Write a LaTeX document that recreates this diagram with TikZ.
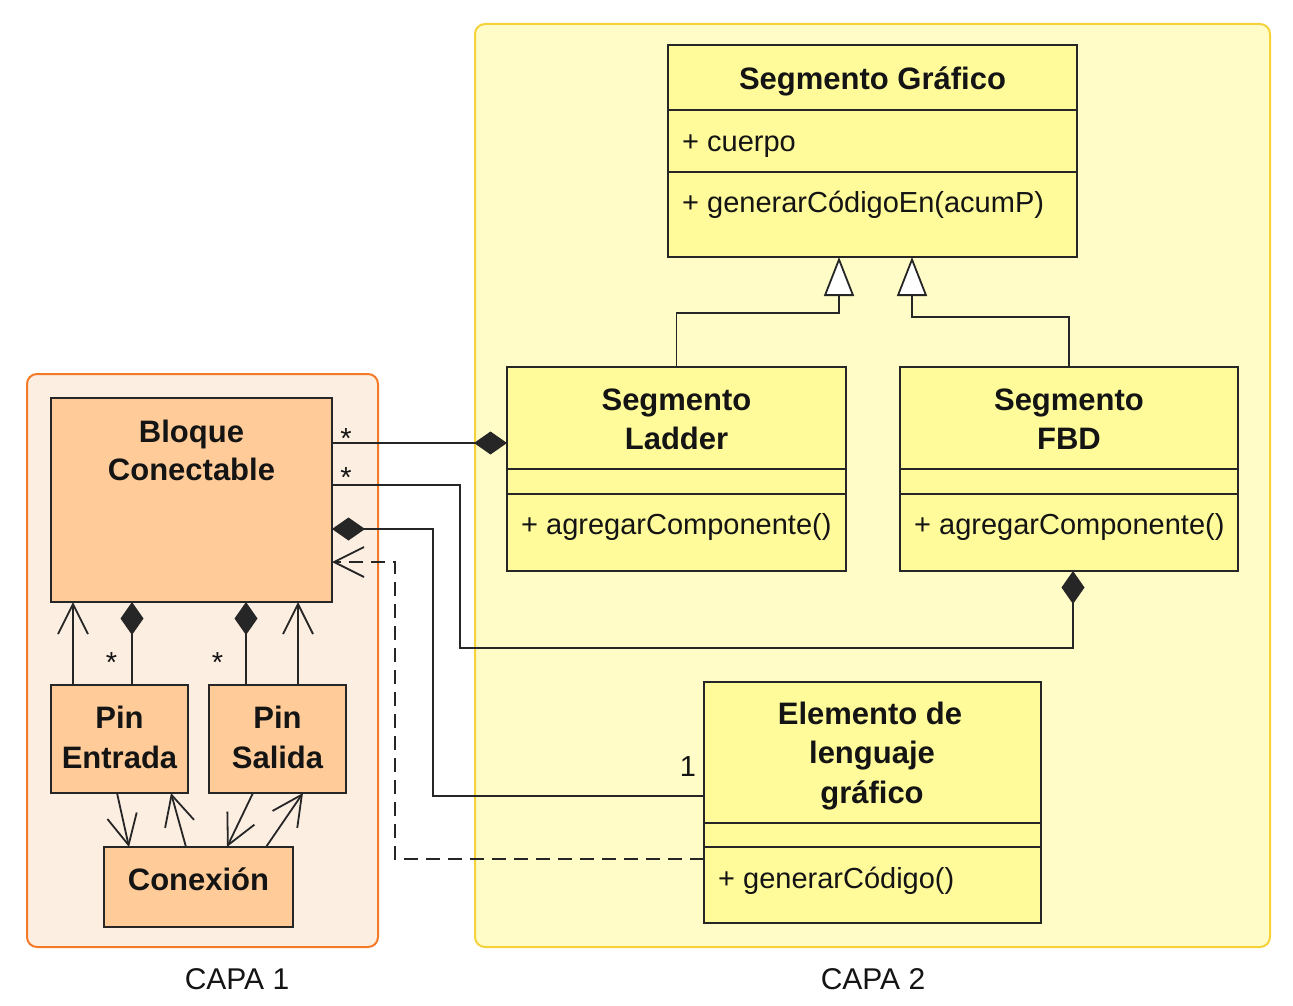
\documentclass[tikz,border=0pt]{standalone}
\usepackage{fontspec}
\setmainfont{Liberation Sans}
\usetikzlibrary{arrows.meta}
\definecolor{linec}{HTML}{262626}
\definecolor{txtc}{HTML}{141414}
\definecolor{clsY}{HTML}{FFFB9A}
\definecolor{clsO}{HTML}{FFCC99}
\definecolor{layOfill}{HTML}{FDEEE2}
\definecolor{layOdraw}{HTML}{F47A28}
\definecolor{layYfill}{HTML}{FFFCC8}
\definecolor{layYdraw}{HTML}{F6D23A}
\tikzset{
  diam/.tip={Diamond[length=33pt,width=23pt,fill=linec]},
  genr/.tip={Triangle[open,fill=white,length=39pt,width=30pt]},
  navi/.tip={Straight Barb[length=30pt,width=30pt]},
  layer/.style={rounded corners=10pt, line width=2pt, anchor=north west, inner sep=0pt, outer sep=0pt},
  cls/.style={draw=linec, line width=2pt, fill=clsY, anchor=north west, inner sep=0pt, outer sep=0pt},
  ocls/.style={cls, fill=clsO},
  ttl/.style={font=\bfseries\fontsize{31}{38}\selectfont, text=txtc, anchor=base, inner sep=0pt},
  mth/.style={font=\fontsize{29}{35}\selectfont, text=txtc, anchor=base west, inner sep=0pt},
  mult/.style={font=\fontsize{29}{35}\selectfont, text=txtc, anchor=base, inner sep=0pt},
  lbl/.style={font=\fontsize{30}{36}\selectfont, text=txtc, anchor=base, inner sep=0pt},
  conn/.style={draw=linec, line width=1.8pt},
  sepl/.style={draw=linec, line width=1.8pt},
}
\begin{document}
\begin{tikzpicture}[x=1pt,y=-1pt]
\useasboundingbox (0,0) rectangle (1293,1006);

% layers
\node[layer, draw=layOdraw, fill=layOfill, minimum width=351pt, minimum height=573pt] (capa1) at (27,374) {};
\node[layer, draw=layYdraw, fill=layYfill, minimum width=795pt, minimum height=923pt] (capa2) at (475,24) {};
\node[lbl] (capa1lbl) at (237,989) {CAPA 1};
\node[lbl] (capa2lbl) at (873,989) {CAPA 2};

% classes
\node[cls, minimum width=409pt, minimum height=212pt] (segg) at (668,45) {};
\node[cls, minimum width=339pt, minimum height=204pt] (ladder) at (507,367) {};
\node[cls, minimum width=338pt, minimum height=204pt] (fbd) at (900,367) {};
\node[cls, minimum width=337pt, minimum height=241pt] (elem) at (704,682) {};
\node[ocls, minimum width=281pt, minimum height=204pt] (bloque) at (51,398) {};
\node[ocls, minimum width=137pt, minimum height=108pt] (pinE) at (51,685) {};
\node[ocls, minimum width=137pt, minimum height=108pt] (pinS) at (209,685) {};
\node[ocls, minimum width=189pt, minimum height=80pt] (con) at (104,847) {};

% compartments
\draw[sepl] ([yshift=-65pt]segg.north west) -- ([yshift=-65pt]segg.north east);
\draw[sepl] ([yshift=-127pt]segg.north west) -- ([yshift=-127pt]segg.north east);
\draw[sepl] ([yshift=-102pt]ladder.north west) -- ([yshift=-102pt]ladder.north east);
\draw[sepl] ([yshift=-127pt]ladder.north west) -- ([yshift=-127pt]ladder.north east);
\draw[sepl] ([yshift=-102pt]fbd.north west) -- ([yshift=-102pt]fbd.north east);
\draw[sepl] ([yshift=-127pt]fbd.north west) -- ([yshift=-127pt]fbd.north east);
\draw[sepl] ([yshift=-141pt]elem.north west) -- ([yshift=-141pt]elem.north east);
\draw[sepl] ([yshift=-165pt]elem.north west) -- ([yshift=-165pt]elem.north east);

% texts
\node[ttl] (seggT) at (872.5,90) {Segmento Gráfico};
\node[mth] (seggA) at (682,151) {+ cuerpo};
\node[mth] (seggM) at (682,212) {+ generarCódigoEn(acumP)};
\node[ttl] (ladderT1) at (676.5,410) {Segmento};
\node[ttl] (ladderT2) at (676.5,449) {Ladder};
\node[mth] (ladderM) at (521,534) {+ agregarComponente()};
\node[ttl] (fbdT1) at (1069,410) {Segmento};
\node[ttl] (fbdT2) at (1069,449) {FBD};
\node[mth] (fbdM) at (914,534) {+ agregarComponente()};
\node[ttl] (elemT1) at (870,724) {Elemento de};
\node[ttl] (elemT2) at (872,763.5) {lenguaje};
\node[ttl] (elemT3) at (872,803) {gráfico};
\node[mth] (elemM) at (718,888) {+ generarCódigo()};
\node[ttl] (bloqueT1) at (191.5,442) {Bloque};
\node[ttl] (bloqueT2) at (191.5,480) {Conectable};
\node[ttl] (pinET1) at (119.5,728) {Pin};
\node[ttl] (pinET2) at (119.5,768) {Entrada};
\node[ttl] (pinST1) at (277.5,728) {Pin};
\node[ttl] (pinST2) at (277.5,768) {Salida};
\node[ttl] (conT) at (198.5,890) {Conexión};

% generalizations
\draw[conn, -{genr}] (ladder.north) -- ++(0,-54) -| ([xshift=-33.5pt]segg.south);
\draw[conn, -{genr}] (fbd.north) -- ++(0,-50) -| ([xshift=39.5pt]segg.south);

% compositions to Segmento Ladder / FBD
\draw[conn, -{diam}] ([yshift=-45pt]bloque.north east) -- ([yshift=-45pt]bloque.north east -| ladder.west);
\draw[conn, {diam}-] ([xshift=4pt]fbd.south) |- (460,648) |- ([yshift=-87pt]bloque.north east);
\node[mult] (m1) at (346,448) {*};
\node[mult] (m2) at (346,487.5) {*};

% association with Elemento
\draw[conn, {diam}-] ([yshift=-131pt]bloque.north east) -| (433,796) -- ([yshift=-114pt]elem.north west);
\node[mult] (m3) at (688,776) {1};

% dependency
\draw[conn, dashed, dash pattern=on 14pt off 8pt, -{navi}] ([yshift=-177pt]elem.north west) -| (395,562) -- ([yshift=-164pt]bloque.north east);

% bloque - pins
\draw[conn, -{navi}] ([xshift=-46.5pt]pinE.north) -- ([xshift=-46.5pt]pinE.north |- bloque.south);
\draw[conn, {diam}-] ([xshift=-59.5pt]bloque.south) -- ([xshift=-59.5pt]bloque.south |- pinE.north);
\draw[conn, {diam}-] ([xshift=54.5pt]bloque.south) -- ([xshift=54.5pt]bloque.south |- pinS.north);
\draw[conn, -{navi}] ([xshift=20.5pt]pinS.north) -- ([xshift=20.5pt]pinS.north |- bloque.south);
\node[mult] (m4) at (111.5,672.5) {*};
\node[mult] (m5) at (217.5,672.5) {*};

% pins - conexion
\draw[conn, -{navi}] ([xshift=-2.5pt]pinE.south) -- ([xshift=-69.5pt]con.north);
\draw[conn, -{navi}] ([xshift=-12.5pt]con.north) -- ([xshift=51.5pt]pinE.south);
\draw[conn, -{navi}] ([xshift=-24.5pt]pinS.south) -- ([xshift=28.5pt]con.north);
\draw[conn, -{navi}] ([xshift=67.5pt]con.north) -- ([xshift=25.5pt]pinS.south);
\end{tikzpicture}
\end{document}
